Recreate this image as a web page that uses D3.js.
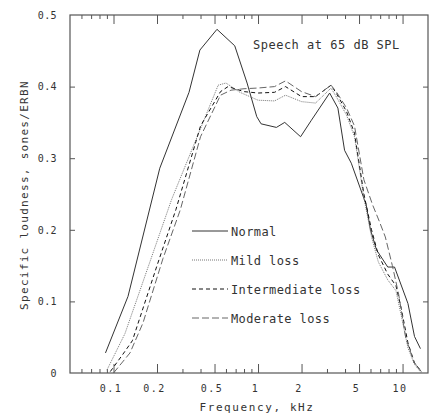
<!DOCTYPE html>
<html>
<head>
<meta charset="utf-8">
<script src="https://cdn.jsdelivr.net/npm/d3@7"></script>
<style>
body{margin:0;background:#fff;}
text{font-family:"DejaVu Sans Mono",monospace;fill:#333;}
</style>
</head>
<body>
<script>
// data (kHz, sones/ERBN)
var freqNormal = [0.088,0.126,0.209,0.333,0.396,0.52,0.69,0.84,0.98,1.05,1.34,1.53,1.97,2.34,3.13,3.57,3.97,4.42,5.6,6.0,6.6,7.9,8.8,10.9,12.1,13.3];
var normal     = [0.028,0.107,0.286,0.392,0.451,0.480,0.457,0.405,0.358,0.348,0.343,0.350,0.330,0.353,0.391,0.370,0.311,0.293,0.235,0.200,0.172,0.148,0.148,0.097,0.051,0.034];

var freqMild = [0.09,0.12,0.252,0.53,0.60,0.75,1.0,1.3,1.55,2.0,2.5,3.2,3.5,4.1,4.65,5.4,6.1,6.8,7.9,9.0,9.8,10.9,12.1,13.5];
var mild     = [0.004,0.055,0.242,0.402,0.405,0.392,0.381,0.380,0.388,0.379,0.377,0.398,0.385,0.360,0.330,0.245,0.190,0.155,0.130,0.115,0.080,0.035,0.012,0.0];

var freqInter = [0.095,0.115,0.135,0.20,0.27,0.40,0.55,0.62,0.80,1.0,1.3,1.55,2.0,2.5,3.2,3.5,4.1,4.65,5.4,6.1,6.8,7.9,9.0,9.8,10.9,12.1,13.5];
var inter     = [0.002,0.025,0.045,0.150,0.228,0.345,0.393,0.400,0.393,0.391,0.392,0.400,0.386,0.386,0.402,0.390,0.365,0.335,0.250,0.200,0.165,0.138,0.122,0.090,0.042,0.014,0.002];

var freqModerate = [0.10,0.13,0.16,0.22,0.29,0.40,0.55,0.65,0.80,1.0,1.3,1.55,2.0,2.5,3.2,3.5,4.1,4.65,5.4,6.2,6.9,7.6,8.5,9.4,10.5,12.0,13.5];
var moderate     = [0.0,0.028,0.07,0.160,0.228,0.330,0.388,0.395,0.397,0.398,0.400,0.408,0.393,0.386,0.402,0.392,0.370,0.345,0.270,0.235,0.212,0.190,0.150,0.110,0.050,0.015,0.002];

var xTicks = [0.1,0.2,0.5,1,2,5,10],
    xTickLabels = ['0.1','0.2','0.5','1','2','5','10'],
    xMinor = [0.06,0.07,0.08,0.09,0.3,0.4,0.6,0.7,0.8,0.9,3,4,6,7,8,9],
    yTicks = [0,0.1,0.2,0.3,0.4,0.5],
    yTickLabels = ['0','0.1','0.2','0.3','0.4','0.5'];

var names = ['Normal','Mild loss','Intermediate loss','Moderate loss'];

var width = 435, height = 416,
    margin = {left:70,top:15,right:7,bottom:43};

var svg = d3.select('body').append('svg').attr('width',width).attr('height',height);

var scale_x = d3.scaleLog().domain([0.05,15]).range([margin.left,width-margin.right]);
var scale_y = d3.scaleLinear().domain([0,0.5]).range([height-margin.bottom,margin.top]);

var x0 = scale_x.range()[0], x1 = scale_x.range()[1],
    y0 = scale_y.range()[0], y1 = scale_y.range()[1];

// ticks, all pointing inside the frame
function tickAxis(axis, tr){
  var g = svg.append('g').attr('transform',tr).call(axis);
  g.select('.domain').remove();
  g.selectAll('line').attr('stroke','#555');
  g.selectAll('text').remove();
}
tickAxis(d3.axisBottom(scale_x).tickValues(xMinor).tickSize(4), 'translate(0,'+y1+')');
tickAxis(d3.axisBottom(scale_x).tickValues(xTicks).tickSize(9), 'translate(0,'+y1+')');
tickAxis(d3.axisTop(scale_x).tickValues(xMinor).tickSize(4), 'translate(0,'+y0+')');
tickAxis(d3.axisTop(scale_x).tickValues(xTicks).tickSize(9), 'translate(0,'+y0+')');
tickAxis(d3.axisRight(scale_y).tickValues([0.1,0.2,0.3,0.4]).tickSize(5), 'translate('+x0+',0)');
tickAxis(d3.axisLeft(scale_y).tickValues([0.1,0.2,0.3,0.4]).tickSize(5), 'translate('+x1+',0)');

// frame
svg.append('rect').attr('x',x0).attr('y',y1).attr('width',x1-x0).attr('height',y0-y1)
   .attr('fill','none').attr('stroke','#555').attr('stroke-width',1.2);

// tick labels
var gx = svg.append('g').attr('transform','translate(0,'+y0+')')
  .call(d3.axisBottom(scale_x).tickValues(xTicks).tickSize(0).tickPadding(12)
        .tickFormat(function(d,i){return xTickLabels[i];}));
gx.select('.domain').remove();
gx.selectAll('text').attr('font-size',10).attr('font-family','DejaVu Sans Mono')
  .attr('fill','#333').style('letter-spacing','1.5px').attr('dx',-3);

var gy = svg.append('g').attr('transform','translate('+x0+',0)')
  .call(d3.axisLeft(scale_y).tickValues(yTicks).tickSize(0).tickPadding(13)
        .tickFormat(function(d,i){return yTickLabels[i];}));
gy.select('.domain').remove();
gy.selectAll('text').attr('font-size',10).attr('font-family','DejaVu Sans Mono')
  .attr('fill','#333').style('letter-spacing','0.4px');

// axis titles
svg.append('text').attr('x',257).attr('y',411).attr('text-anchor','middle')
   .attr('font-size',11).style('letter-spacing','1.6px').text('Frequency, kHz');
svg.append('text').attr('transform','translate(28,195) rotate(-90)').attr('text-anchor','middle')
   .attr('font-size',11).style('letter-spacing','1.3px').text('Specific loudness, sones/ERBN');

svg.append('text').attr('x',253).attr('y',49).attr('font-size',12)
   .style('letter-spacing','0.5px').text('Speech at 65 dB SPL');

// curves
var series = [
  {f:freqNormal, v:normal, color:'#333', dash:null, w:1},
  {f:freqMild, v:mild, color:'#777', dash:'1,1', w:1},
  {f:freqInter, v:inter, color:'#111', dash:'4,3', w:1},
  {f:freqModerate, v:moderate, color:'#666', dash:'7,3', w:1}
];

var line_generator = d3.line()
  .x(function(d){return scale_x(d[0]);})
  .y(function(d){return scale_y(d[1]);});

series.forEach(function(s){
  var pts = s.f.map(function(f,i){return [f,s.v[i]];});
  svg.append('path').attr('d',line_generator(pts)).attr('fill','none')
     .attr('stroke',s.color).attr('stroke-width',s.w)
     .attr('stroke-dasharray',s.dash);
});

// legend
var legend = svg.append('g');
series.forEach(function(s,i){
  var y = 231 + i*29;
  legend.append('line').attr('x1',192).attr('x2',228).attr('y1',y).attr('y2',y)
        .attr('stroke',s.color).attr('stroke-width',1).attr('stroke-dasharray',s.dash);
  legend.append('text').attr('x',231).attr('y',y+4.5).attr('font-size',12)
        .style('letter-spacing','0.4px').text(names[i]);
});
</script>
</body>
</html>
